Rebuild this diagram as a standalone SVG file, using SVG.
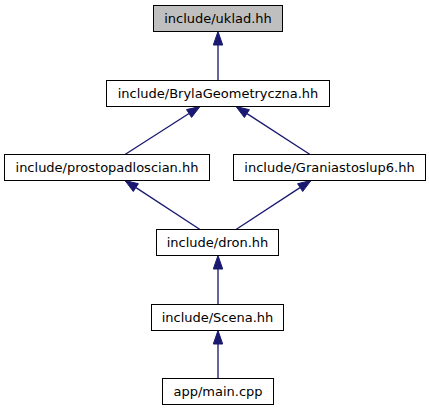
<svg xmlns="http://www.w3.org/2000/svg" width="429" height="411" viewBox="0 0 429 411">
<style>
.box{fill:#fff;stroke:#000;stroke-width:1}
.root{fill:#bfbfbf}
.lbl{font-family:"DejaVu Sans","Liberation Sans",sans-serif;font-size:13px;text-anchor:middle;fill:#000}
.edge{stroke:#191970;stroke-width:1.33;fill:none}
.head{fill:#191970;stroke:#191970;stroke-width:1}
</style>
<rect width="429" height="411" fill="#fff"/>
<g id="edges">
<line class="edge" x1="218" y1="80.5" x2="218" y2="45"/>
<polygon class="head" points="218,31.5 213.3,45 222.7,45"/>
<line class="edge" x1="125" y1="154.5" x2="189" y2="113.5"/>
<polygon class="head" points="200,106.5 191.6,117.4 186.5,109.6"/>
<line class="edge" x1="310" y1="154.5" x2="247" y2="113.6"/>
<polygon class="head" points="236,106.5 249.4,109.7 244.4,117.5"/>
<line class="edge" x1="200" y1="229.5" x2="136" y2="187.6"/>
<polygon class="head" points="125,180.5 138.4,183.7 133.3,191.5"/>
<line class="edge" x1="236" y1="229.5" x2="300" y2="187.6"/>
<polygon class="head" points="311,180.5 302.7,191.5 297.6,183.7"/>
<line class="edge" x1="218" y1="304.5" x2="218" y2="269"/>
<polygon class="head" points="218,255.5 213.3,269 222.7,269"/>
<line class="edge" x1="218" y1="378.5" x2="218" y2="344"/>
<polygon class="head" points="218,330.5 213.3,344 222.7,344"/>
</g>
<g id="node_uklad">
<rect class="box root" x="153.5" y="5.5" width="129" height="26"/>
<text class="lbl" x="218" y="22.5">include/uklad.hh</text>
</g>
<g id="node_bryla">
<rect class="box" x="106.5" y="80.5" width="223" height="26"/>
<text class="lbl" x="218" y="97.5">include/BrylaGeometryczna.hh</text>
</g>
<g id="node_prosto">
<rect class="box" x="4.5" y="154.5" width="205" height="26"/>
<text class="lbl" x="107" y="171.5">include/prostopadloscian.hh</text>
</g>
<g id="node_grania">
<rect class="box" x="233.5" y="154.5" width="192" height="26"/>
<text class="lbl" x="329.5" y="171.5">include/Graniastoslup6.hh</text>
</g>
<g id="node_dron">
<rect class="box" x="156.5" y="229.5" width="122" height="26"/>
<text class="lbl" x="217.5" y="246.5">include/dron.hh</text>
</g>
<g id="node_scena">
<rect class="box" x="151.5" y="304.5" width="132" height="26"/>
<text class="lbl" x="217.5" y="321.5">include/Scena.hh</text>
</g>
<g id="node_main">
<rect class="box" x="162.5" y="378.5" width="111" height="26"/>
<text class="lbl" x="218" y="395.5">app/main.cpp</text>
</g>
</svg>
